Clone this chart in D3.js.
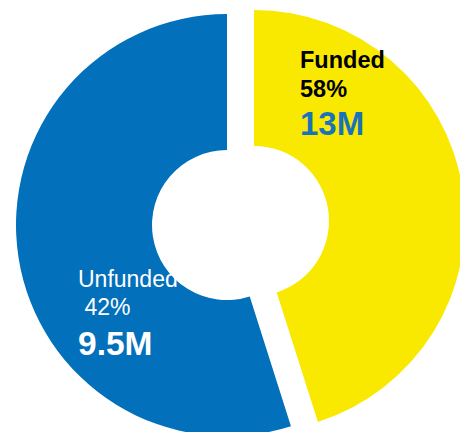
<!DOCTYPE html>
<html>
<head>
<meta charset="utf-8">
<script src="https://cdn.jsdelivr.net/npm/d3@7"></script>
<style>
  body { margin: 0; background: #fff; }
  text { font-family: "Liberation Sans", Arial, sans-serif; }
</style>
</head>
<body>
<script>
var anchoSvg = 460,
    altoSvg = 432,
    centro = {x: 240.5, y: 223},
    radioExt = 211,
    radioInt = 75,
    separacion = 13.65;

// datos
var categorias = ['Funded', 'Unfunded'];
var importes = [13, 9.5];           // millones
var porcentajes = [58, 42];         // texto de la etiqueta
var partesDibujadas = [45.1, 54.9]; // parte del anillo tal como se ve dibujada

var colores = ['#f9e900', '#0270ba'];

var datos = categorias.map((c, i) => ({
    categoria: c,
    importe: importes[i],
    porcentaje: porcentajes[i],
    parte: partesDibujadas[i]
}));

var elementoSvg = d3.select('body')
    .append('svg')
    .attr('width', anchoSvg)
    .attr('height', altoSvg);

var tarta = d3.pie()
    .sort(null)
    .value(d => d.parte);

var arco = d3.arc()
    .innerRadius(radioInt)
    .outerRadius(radioExt);

// cada porcion se separa del centro siguiendo su angulo medio
var desplazar = function(d) {
    var m = (d.startAngle + d.endAngle) / 2;
    return 'translate(' + (centro.x + separacion * Math.sin(m)) + ',' +
        (centro.y - separacion * Math.cos(m)) + ')';
};

elementoSvg
    .append('g')
    .attr('class', 'porciones')
    .selectAll('path')
    .data(tarta(datos))
    .enter()
    .append('path')
    .attr('transform', desplazar)
    .attr('d', arco)
    .attr('fill', (d, i) => colores[i]);

// etiquetas
var posEtiquetas = [
    {x: 300, y: 68, color: '#000', colorImporte: '#1a73ba', peso: 'bold', tam: 23.5, espacio: ''},
    {x: 78, y: 286.5, color: '#fff', colorImporte: '#fff', peso: 'normal', tam: 23, espacio: ' '}
];

var etiquetas = elementoSvg
    .append('g')
    .selectAll('g')
    .data(datos)
    .enter()
    .append('g')
    .attr('transform', (d, i) => 'translate(' + posEtiquetas[i].x + ',' + posEtiquetas[i].y + ')');

etiquetas.append('text')
    .text(d => d.categoria)
    .attr('font-size', (d, i) => posEtiquetas[i].tam)
    .attr('font-weight', (d, i) => posEtiquetas[i].peso)
    .attr('fill', (d, i) => posEtiquetas[i].color);

etiquetas.append('text')
    .text((d, i) => posEtiquetas[i].espacio + d.porcentaje + '%')
    .attr('y', 28.5)
    .attr('xml:space', 'preserve')
    .style('white-space', 'pre')
    .attr('font-size', (d, i) => posEtiquetas[i].tam)
    .attr('font-weight', (d, i) => posEtiquetas[i].peso)
    .attr('fill', (d, i) => posEtiquetas[i].color);

etiquetas.append('text')
    .text(d => d.importe + 'M')
    .attr('y', (d, i) => i == 0 ? 67 : 68.5)
    .attr('font-size', (d, i) => i == 0 ? 33 : 33.5)
    .attr('font-weight', 'bold')
    .attr('fill', (d, i) => posEtiquetas[i].colorImporte);
</script>
</body>
</html>
